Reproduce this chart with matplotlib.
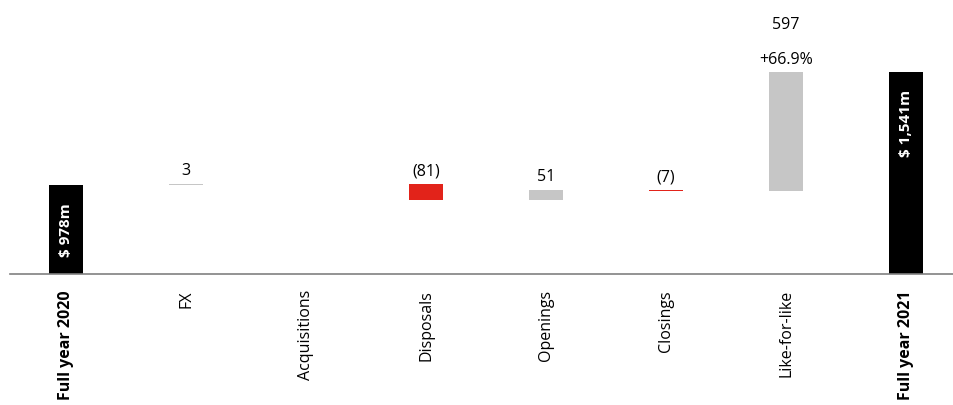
import matplotlib.pyplot as plt

plt.rcParams['font.family'] = ['Open Sans', 'DejaVu Sans']

categories = ['Full year 2020', 'FX', 'Acquisitions', 'Disposals',
              'Openings', 'Closings', 'Like-for-like', 'Full year 2021']
start_total = 978
changes = [3, 0, -81, 51, -7, 597]
end_total = 1541
change_labels = ['3', '', '(81)', '51', '(7)', '597']
lfl_growth = '+66.9%'

black = '#000000'
red = '#e2231a'
grey = '#c6c6c6'

fig = plt.figure(figsize=(9.54, 4.06), dpi=100)
ax = fig.add_axes([0.0105, 0.323, 0.9895, 0.677])

# totals at both ends
ax.bar(0, start_total, width=0.28, color=black, bottom=0)
ax.bar(len(categories) - 1, end_total, width=0.28, color=black, bottom=0)

# floating bars for each movement
level = start_total
for i, (c, lab) in enumerate(zip(changes, change_labels), start=1):
    if c == 0:
        continue
    color = grey if c > 0 else red
    bottom = level if c > 0 else level + c
    ax.bar(i, abs(c), width=0.28, color=color, bottom=bottom)
    top = bottom + abs(c)
    if categories[i] == 'Like-for-like':
        ax.annotate(lfl_growth, (i, top), xytext=(0, 4), textcoords='offset points',
                    ha='center', va='bottom', fontsize=11.5)
        ax.annotate(lab, (i, top), xytext=(0, 29), textcoords='offset points',
                    ha='center', va='bottom', fontsize=11.5)
    else:
        ax.annotate(lab, (i, top), xytext=(0, 4), textcoords='offset points',
                    ha='center', va='bottom', fontsize=11.5)
    level += c

ax.text(0, (start_total + 531) / 2, '$ 978m', rotation=90, color='white',
        ha='center', va='center', fontsize=11, fontweight='bold')
ax.annotate('$ 1,541m', (len(categories) - 1, end_total), xytext=(0, -12),
            textcoords='offset points', rotation=90, color='white',
            ha='center', va='top', fontsize=11, fontweight='bold')

ax.set_xlim(-0.467, 7.4)
ax.set_ylim(531, 1907)
ax.set_xticks(range(len(categories)))
ax.set_xticklabels(categories, rotation=90, va='top', fontsize=11.5)
for t in (ax.get_xticklabels()[0], ax.get_xticklabels()[-1]):
    t.set_fontweight('bold')
ax.tick_params(axis='x', length=0, pad=11)
ax.set_yticks([])
for s in ['top', 'right', 'left']:
    ax.spines[s].set_visible(False)
ax.spines['bottom'].set_color('#808080')
ax.spines['bottom'].set_linewidth(1.2)

plt.savefig('out.png', dpi=100)
